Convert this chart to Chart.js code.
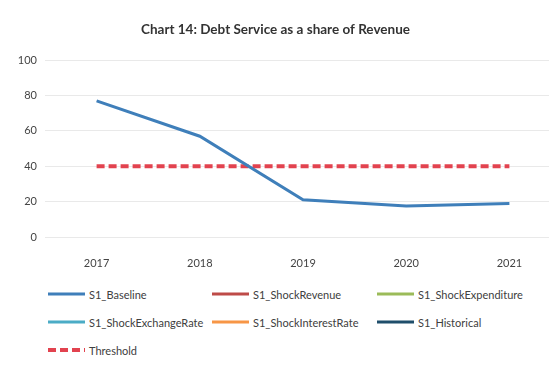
<!DOCTYPE html>
<html lang="en">
<head>
  <meta charset="UTF-8">
  <title>Debt Service as a share of Revenue</title>
  <script src="https://cdn.jsdelivr.net/npm/chart.js@4"></script>
  <style>
    html, body { margin: 0; padding: 0; background: #fff; overflow: hidden; }
    #wrap { position: relative; width: 549px; height: 376px; overflow: hidden; }
    #chartBox { position: absolute; left: -10px; top: 0; width: 571px; height: 280px; }
    #legend {
      position: absolute; left: 48px; top: 280px;
      display: grid; grid-template-columns: 164px 165px 170px; grid-auto-rows: 28px;
      font-family: Lato, "DejaVu Sans", sans-serif; font-size: 11px; color: #404040;
    }
    #legend .item { display: flex; align-items: center; white-space: nowrap; }
    #legend svg { margin-right: 4px; }
  </style>
</head>
<body>
<div id="wrap">
  <div id="chartBox"><canvas id="debtChart"></canvas></div>
  <div id="legend"></div>
</div>
<script>
  // Years on the x axis
  const years = ['2017', '2018', '2019', '2020', '2021'];
  // Debt service / revenue (%) per scenario
  const baseline = [77, 57, 21, 17.5, 19];
  const shockRevenue = [null, null, null, null, null];
  const shockExpenditure = [null, null, null, null, null];
  const shockExchangeRate = [null, null, null, null, null];
  const shockInterestRate = [null, null, null, null, null];
  const historical = [null, null, null, null, null];
  const threshold = [40, 40, 40, 40, 40];
  const yTicks = [0, 20, 40, 60, 80, 100];

  const line = (label, data, color, extra) => Object.assign({
    label: label,
    data: data,
    borderColor: color,
    backgroundColor: color,
    borderWidth: 3,
    pointRadius: 0,
    tension: 0,
    fill: false
  }, extra || {});

  // builds the grid legend under the chart
  const htmlLegend = {
    id: 'htmlLegend',
    afterUpdate(chart) {
      const box = document.getElementById('legend');
      box.innerHTML = '';
      const items = chart.options.plugins.legend.labels.generateLabels(chart);
      items.forEach(it => {
        const ds = chart.data.datasets[it.datasetIndex];
        const dash = (ds.borderDash || []).join(',');
        const el = document.createElement('div');
        el.className = 'item';
        el.innerHTML =
          '<svg width="37" height="6"><line x1="0" y1="3" x2="37" y2="3" stroke="' + ds.borderColor +
          '" stroke-width="' + ds.borderWidth + '"' + (dash ? ' stroke-dasharray="' + dash + '"' : '') + '/></svg>' +
          '<span>' + it.text + '</span>';
        box.appendChild(el);
      });
    }
  };

  const ctx = document.getElementById('debtChart').getContext('2d');
  new Chart(ctx, {
    type: 'line',
    data: {
      labels: years,
      datasets: [
        line('S1_Baseline', baseline, '#3f7fba'),
        line('S1_ShockRevenue', shockRevenue, '#be4b48'),
        line('S1_ShockExpenditure', shockExpenditure, '#9bbb59'),
        line('S1_ShockExchangeRate', shockExchangeRate, '#4bacc6'),
        line('S1_ShockInterestRate', shockInterestRate, '#f79646'),
        line('S1_Historical', historical, '#1f4e6b'),
        line('Threshold', threshold, '#e2434f', { borderWidth: 4, borderDash: [8, 4] })
      ]
    },
    options: {
      responsive: true,
      maintainAspectRatio: false,
      animation: false,
      layout: { padding: { top: 0, right: 0, bottom: 10, left: 0 } },
      plugins: {
        legend: { display: false },
        tooltip: { enabled: false },
        title: {
          display: true,
          text: 'Chart 14: Debt Service as a share of Revenue',
          color: '#333',
          font: { family: 'Lato', size: 13.5, weight: 'bold' },
          padding: { top: 22, bottom: 22 }
        }
      },
      scales: {
        x: {
          offset: true,
          grid: { display: false },
          border: { display: false },
          ticks: { color: '#444', font: { family: 'Lato', size: 11 }, padding: 12 },
          afterFit(scale) { scale.height = 33; }
        },
        y: {
          min: 0,
          max: 100,
          afterBuildTicks(scale) { scale.ticks = yTicks.map(v => ({ value: v })); },
          grid: { color: '#e9e9e9', lineWidth: 1, drawTicks: false },
          border: { display: false },
          ticks: { color: '#444', font: { family: 'Lato', size: 11 }, padding: 8 },
          afterFit(scale) { scale.width = 55; }
        }
      }
    },
    plugins: [htmlLegend]
  });
</script>
</body>
</html>
